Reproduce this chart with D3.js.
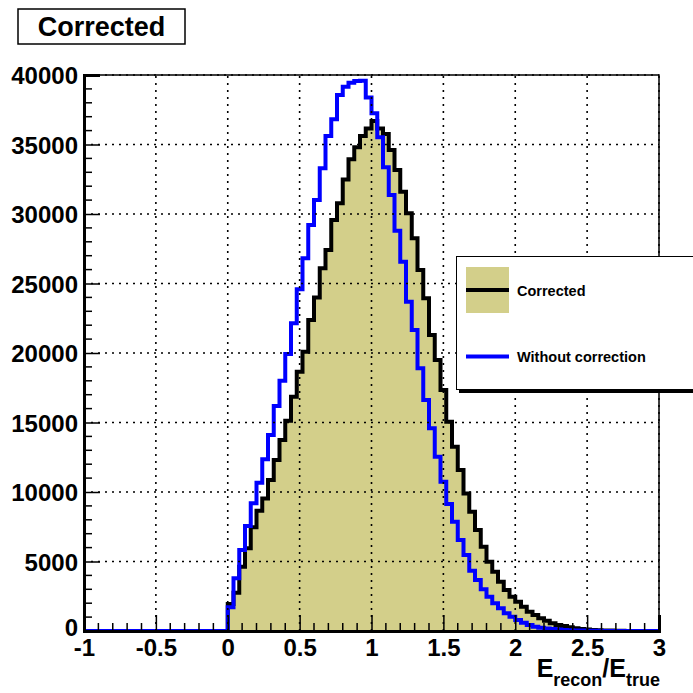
<!DOCTYPE html>
<html>
<head>
<meta charset="utf-8">
<script src="https://cdn.jsdelivr.net/npm/d3@7"></script>
<style>
  html, body { margin: 0; padding: 0; background: #ffffff; }
  svg { display: block; font-family: "Liberation Sans", Arial, Helvetica, sans-serif; }
</style>
</head>
<body>
<svg id="chart" width="693" height="693"></svg>
<script>
// Histogram binning: 100 bins of width 0.04 on [-1, 3]
const xMin = -1, xMax = 3, binWidth = 0.04;
const binLow = d3.range(100).map(i => +(xMin + i * binWidth).toFixed(2));

// Entries per bin, E_recon/E_true after correction (bins below 0 are empty)
const correctedCounts = [
  0,0,0,0,0,0,0,0,0,0, 0,0,0,0,0,0,0,0,0,0, 0,0,0,0,0,
  1940, 2760, 4630, 5950, 7460, 8650, 9540, 10860, 12300, 13740,
  15130, 16860, 18650, 20090, 22370, 24000, 26090, 27410, 29570, 30770,
  32490, 33930, 34800, 35610, 36160, 36690, 36160, 35750, 34600, 33160,
  31600, 30050, 28250, 25970, 23930, 21300, 19490, 17340, 15060, 13260,
  11580, 9900, 8580, 7270, 6060, 4990, 4270, 3550, 2950, 2470,
  2110, 1750, 1390, 1150, 910, 740, 550, 430, 360, 270,
  200, 150, 110, 80, 60, 40, 30, 20, 12, 8,
  5, 3, 2, 1, 0
];

// Entries per bin, E_recon/E_true without the correction
const uncorrectedCounts = [
  0,0,0,0,0,0,0,0,0,0, 0,0,0,0,0,0,0,0,0,0, 0,0,0,0,0,
  1700, 3790, 5830, 7550, 9190, 10670, 12350, 14100, 16190, 18010,
  19930, 22140, 24580, 26810, 29210, 31010, 33290, 35610, 36810, 38560,
  39160, 39450, 39570, 39590, 38390, 37240, 35520, 33360, 31370, 28800,
  26570, 23690, 21650, 18900, 16620, 14580, 12540, 10740, 9140, 7860,
  6550, 5470, 4340, 3670, 3000, 2470, 1990, 1630, 1270, 1030,
  790, 600, 430, 310, 240, 180, 140, 100, 80, 60,
  45, 35, 25, 18, 12, 8, 5, 3, 2, 1,
  0, 0, 0, 0, 0
];

// Axis ticks
const xTickValues = [-1, -0.5, 0, 0.5, 1, 1.5, 2, 2.5, 3];
const xTickLabels = ["-1", "-0.5", "0", "0.5", "1", "1.5", "2", "2.5", "3"];
const yTickValues = [0, 5000, 10000, 15000, 20000, 25000, 30000, 35000, 40000];
const yTickLabels = ["0", "5000", "10000", "15000", "20000", "25000", "30000", "35000", "40000"];

const legendLabels = ["Corrected", "Without correction"];
const titleText = "Corrected";

// ---- layout ----
const svg = d3.select("#chart");
const frame = { left: 84, right: 659, top: 75, bottom: 631 };
const fillColor = "#d3cf8a";
const blue = "#0000ff";

const x = d3.scaleLinear().domain([xMin, xMax]).range([frame.left, frame.right]);
const y = d3.scaleLinear().domain([0, 40000]).range([frame.bottom, frame.top]);

svg.append("defs").append("clipPath").attr("id", "plotClip")
  .append("rect")
  .attr("x", frame.left).attr("y", frame.top - 2)
  .attr("width", frame.right - frame.left).attr("height", frame.bottom - frame.top + 4);

// step outline of a histogram
function stepPoints(counts) {
  const pts = [];
  counts.forEach((c, i) => {
    pts.push([binLow[i], c]);
    pts.push([+(binLow[i] + binWidth).toFixed(2), c]);
  });
  return pts;
}

const plot = svg.append("g").attr("clip-path", "url(#plotClip)");

const corrPts = stepPoints(correctedCounts);
const area = d3.area().x(d => x(d[0])).y0(y(0)).y1(d => y(d[1]));
const line = d3.line().x(d => x(d[0])).y(d => y(d[1]));

plot.append("path").attr("d", area(corrPts)).attr("fill", fillColor);

// dotted grid, drawn above the fill
const grid = svg.append("g").attr("stroke", "#000").attr("stroke-width", 1.6)
  .attr("stroke-dasharray", "2,5").attr("fill", "none");
xTickValues.slice(1).forEach(v => {
  grid.append("line").attr("x1", x(v)).attr("x2", x(v))
    .attr("y1", frame.bottom).attr("y2", frame.top);
});
yTickValues.slice(1).forEach(v => {
  grid.append("line").attr("x1", frame.left).attr("x2", frame.right)
    .attr("y1", y(v)).attr("y2", y(v));
});

plot.append("path").attr("d", line(corrPts))
  .attr("fill", "none").attr("stroke", "#000").attr("stroke-width", 4);
plot.append("path").attr("d", line(stepPoints(uncorrectedCounts)))
  .attr("fill", "none").attr("stroke", blue).attr("stroke-width", 4);

// frame
svg.append("rect")
  .attr("x", frame.left).attr("y", frame.top)
  .attr("width", frame.right - frame.left).attr("height", frame.bottom - frame.top)
  .attr("fill", "none").attr("stroke", "#000").attr("stroke-width", 1.5);

// x axis
const xAxis = d3.axisTop(x).tickValues(xTickValues).tickSize(16)
  .tickFormat((d, i) => xTickLabels[i]);
const xg = svg.append("g").attr("transform", `translate(0,${frame.bottom})`).call(xAxis);
xg.select(".domain").attr("stroke-width", 3);
xg.selectAll(".tick line").attr("stroke-width", 1.5);
xg.selectAll(".tick text").attr("y", 8).attr("dy", "0.71em")
  .attr("font-size", 24).attr("font-weight", "bold").attr("fill", "#000")
  .attr("font-family", "Liberation Sans, Arial, sans-serif");
const xMinor = d3.range(-1, 3.0001, 0.1).map(v => +v.toFixed(2))
  .filter(v => Math.abs(v * 2 - Math.round(v * 2)) > 1e-6);
xg.selectAll("line.minor").data(xMinor).enter().append("line").attr("class", "minor")
  .attr("x1", d => x(d)).attr("x2", d => x(d)).attr("y1", 0).attr("y2", -8)
  .attr("stroke", "#000").attr("stroke-width", 1.5);

// y axis
const yAxis = d3.axisRight(y).tickValues(yTickValues).tickSize(16)
  .tickFormat((d, i) => yTickLabels[i]);
const yg = svg.append("g").attr("transform", `translate(${frame.left},0)`).call(yAxis);
yg.select(".domain").attr("stroke-width", 3);
yg.selectAll(".tick line").attr("stroke-width", 1.5);
yg.selectAll(".tick text").attr("x", -6).attr("text-anchor", "end").attr("dy", "0.36em")
  .attr("font-size", 24).attr("font-weight", "bold").attr("fill", "#000")
  .attr("font-family", "Liberation Sans, Arial, sans-serif");
// the zero label sits a little higher so it clears the x labels
yg.selectAll(".tick").filter(d => d === 0).select("text").attr("dy", "0.2em");
const yMinor = d3.range(0, 40001, 1000).filter(v => v % 5000 !== 0);
yg.selectAll("line.minor").data(yMinor).enter().append("line").attr("class", "minor")
  .attr("x1", 0).attr("x2", 8).attr("y1", d => y(d)).attr("y2", d => y(d))
  .attr("stroke", "#000").attr("stroke-width", 1.5);

// x axis title: E_recon / E_true
const xt = svg.append("text").attr("x", frame.right + 1).attr("y", 677)
  .attr("text-anchor", "end").attr("font-size", 25).attr("font-weight", "bold")
  .attr("font-family", "Liberation Sans, Arial, sans-serif");
xt.append("tspan").text("E");
xt.append("tspan").attr("font-size", 18).attr("dy", 9).text("recon");
xt.append("tspan").attr("dy", -9).text("/E");
xt.append("tspan").attr("font-size", 18).attr("dy", 9).text("true");

// title box
svg.append("rect").attr("x", 18).attr("y", 9).attr("width", 167).attr("height", 35)
  .attr("fill", "#fff").attr("stroke", "#000").attr("stroke-width", 1.5);
svg.append("text").attr("x", 101.5).attr("y", 36).attr("text-anchor", "middle")
  .attr("font-size", 27).attr("font-weight", "bold").text(titleText);

// legend
const lg = svg.append("g");
lg.append("rect").attr("x", 459).attr("y", 259).attr("width", 240).attr("height", 134).attr("fill", "#000");
lg.append("rect").attr("x", 456.5).attr("y", 256.5).attr("width", 240).attr("height", 133)
  .attr("fill", "#fff").attr("stroke", "#000").attr("stroke-width", 1);
lg.append("rect").attr("x", 466).attr("y", 267).attr("width", 43).attr("height", 46).attr("fill", fillColor);
lg.append("line").attr("x1", 466).attr("x2", 509).attr("y1", 290).attr("y2", 290)
  .attr("stroke", "#000").attr("stroke-width", 4);
lg.append("line").attr("x1", 466).attr("x2", 509).attr("y1", 356.5).attr("y2", 356.5)
  .attr("stroke", blue).attr("stroke-width", 4);
lg.selectAll("text.entry").data(legendLabels).enter().append("text").attr("class", "entry")
  .attr("x", 517).attr("y", (d, i) => i === 0 ? 296 : 362)
  .attr("font-size", 14.5).attr("font-weight", "bold").text(d => d);
</script>
</body>
</html>
